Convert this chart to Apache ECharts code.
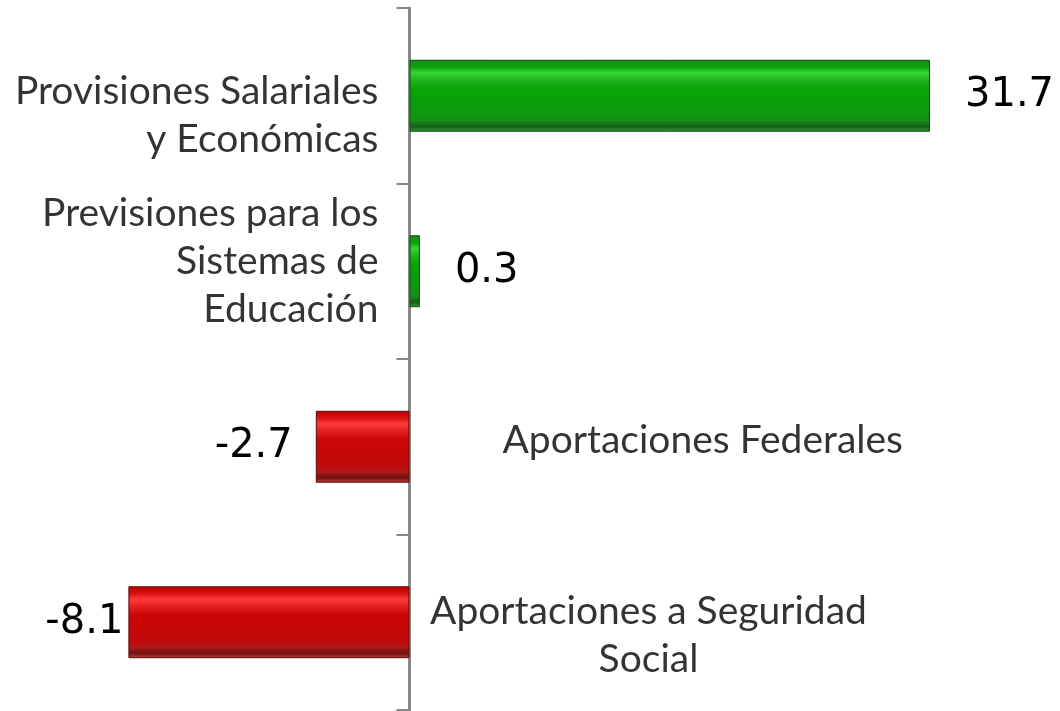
<!DOCTYPE html>
<html>
<head>
<meta charset="utf-8">
<script src="https://cdn.jsdelivr.net/npm/echarts@6/dist/echarts.min.js"></script>
<style>
  html, body { margin: 0; padding: 0; background: #fff; }
  #main { width: 1060px; height: 711px; }
</style>
</head>
<body>
<div id="main"></div>
<script>
// categories, top to bottom
var categories = [
    'Provisiones Salariales\ny Económicas',
    'Previsiones para los\nSistemas de\nEducación',
    'Aportaciones Federales',
    'Aportaciones a Seguridad\nSocial'
];
var values = [31.7, 0.3, -2.7, -8.1];

// axis range (the top bar is cut at the axis max, like the original)
var axisMin = -11.8;
var axisMax = 15;

function greenBar() {
    return new echarts.graphic.LinearGradient(0, 0, 0, 1, [
        { offset: 0, color: '#1a8e1a' },
        { offset: 0.1, color: '#0aa00a' },
        { offset: 0.18, color: '#35d635' },
        { offset: 0.3, color: '#1cb01c' },
        { offset: 0.4, color: '#06a406' },
        { offset: 0.75, color: '#0c9a0c' },
        { offset: 0.85, color: '#1a8a1a' },
        { offset: 0.93, color: '#145e14' },
        { offset: 1, color: '#3e9e3e' }
    ]);
}

function redBar() {
    return new echarts.graphic.LinearGradient(0, 0, 0, 1, [
        { offset: 0, color: '#c00000' },
        { offset: 0.1, color: '#d81010' },
        { offset: 0.18, color: '#ff3a3a' },
        { offset: 0.3, color: '#e01c1c' },
        { offset: 0.4, color: '#cc0606' },
        { offset: 0.75, color: '#c20a0a' },
        { offset: 0.85, color: '#b01818' },
        { offset: 0.93, color: '#6e1212' },
        { offset: 1, color: '#c04040' }
    ]);
}

function drawChart() {
    var chartDom = document.getElementById('main');
    var myChart = echarts.init(chartDom);
    var option;

    var barData = values.map(function (v, i) {
        var pos = v >= 0;
        var dist = [35, 35, 23, 5][i];
        return {
            value: Math.min(v, axisMax),
            itemStyle: {
                color: pos ? greenBar() : redBar(),
                borderColor: pos ? '#0b4f0b' : '#5a0a0a',
                borderWidth: 1
            },
            label: {
                position: pos ? 'right' : 'left',
                distance: dist
            }
        };
    });

    // category names placed beside the axis line
    var nameOpts = [
        { position: 'left', distance: 31, align: 'right', offset: [0, 20] },
        { position: 'left', distance: 31, align: 'right', offset: [0, -10] },
        { position: 'right', distance: 93, align: 'left', offset: [0, -6] },
        { position: 'right', distance: 239, align: 'center', offset: [0, 13] }
    ];
    var nameData = categories.map(function (c, i) {
        var o = nameOpts[i];
        return {
            value: [0, i],
            label: {
                position: o.position,
                distance: o.distance,
                align: o.align,
                offset: o.offset,
                color: '#000000'
            }
        };
    });

    option = {
        animation: false,
        backgroundColor: '#ffffff',
        grid: {
            left: 0,
            right: 130,
            top: 8,
            bottom: 1,
            containLabel: false,
            outerBoundsMode: 'none'
        },
        xAxis: {
            type: 'value',
            min: axisMin,
            max: axisMax,
            show: false
        },
        yAxis: {
            type: 'category',
            data: categories,
            inverse: true,
            axisLine: {
                onZero: true,
                lineStyle: { color: '#888888', width: 3 }
            },
            axisTick: {
                show: true,
                length: 13,
                lineStyle: { color: '#888888', width: 2 }
            },
            axisLabel: { show: false },
            splitLine: { show: false }
        },
        series: [
            {
                type: 'bar',
                data: barData,
                barWidth: '41%',
                label: {
                    show: true,
                    fontFamily: 'DejaVu Sans',
                    fontSize: 40,
                    color: '#000000',
                    formatter: function (p) {
                        return values[p.dataIndex].toFixed(1);
                    }
                },
                z: 1
            },
            {
                type: 'scatter',
                data: nameData,
                symbolSize: 0,
                silent: true,
                label: {
                    show: true,
                    fontFamily: 'Lato',
                    fontSize: 39,
                    lineHeight: 48,
                    color: '#000000',
                    formatter: function (p) {
                        return categories[p.dataIndex];
                    }
                },
                z: 3
            }
        ]
    };

    option && myChart.setOption(option);
}

document.addEventListener('DOMContentLoaded', function () {
    drawChart();
});
</script>
</body>
</html>
